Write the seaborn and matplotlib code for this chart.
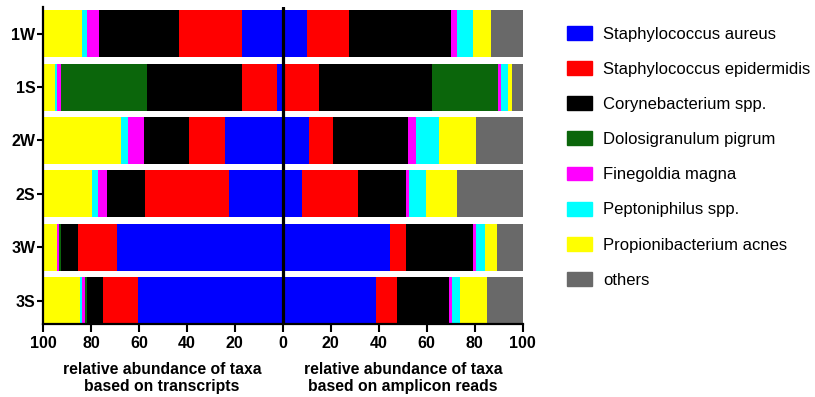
import pandas as pd
import numpy as np
import seaborn as sns
import matplotlib.pyplot as plt
import matplotlib.patches as mpatches

samples = ["1W", "1S", "2W", "2S", "3W", "3S"]
taxa = [
    "Staphylococcus aureus",
    "Staphylococcus epidermidis",
    "Corynebacterium spp.",
    "Dolosigranulum pigrum",
    "Finegoldia magna",
    "Peptoniphilus spp.",
    "Propionibacterium acnes",
    "others",
]
colors = ["#0000ff", "#ff0000", "#000000", "#0b660b",
          "#ff00ff", "#00ffff", "#ffff00", "#696969"]

# relative abundance (%) based on transcripts, per taxon across samples
aureus_tx = [17.1, 2.6, 24.2, 22.4, 69.2, 60.4]
epi_tx = [26.3, 14.4, 15.0, 35.2, 16.0, 14.6]
coryne_tx = [33.4, 39.5, 18.8, 15.6, 7.5, 6.7]
dolo_tx = [0.0, 35.9, 0.0, 0.0, 0.7, 0.7]
fine_tx = [4.7, 1.8, 6.7, 3.9, 0.8, 1.4]
pepto_tx = [2.3, 1.0, 2.9, 2.4, 0.0, 0.8]
acnes_tx = [16.2, 4.8, 32.4, 20.5, 5.8, 15.4]
others_tx = [0.0, 0.0, 0.0, 0.0, 0.0, 0.0]

# relative abundance (%) based on amplicon reads
aureus_amp = [10.2, 0.5, 11.0, 8.1, 44.7, 38.7]
epi_amp = [17.4, 14.7, 9.9, 23.1, 6.5, 9.0]
coryne_amp = [42.5, 46.9, 31.3, 20.2, 28.3, 21.7]
dolo_amp = [0.0, 27.8, 0.0, 0.0, 0.0, 0.0]
fine_amp = [2.4, 1.0, 3.2, 1.2, 1.0, 1.0]
pepto_amp = [6.8, 2.9, 9.9, 7.2, 3.8, 3.5]
acnes_amp = [7.5, 2.0, 15.3, 12.7, 4.9, 11.1]
others_amp = [13.2, 4.2, 19.4, 27.5, 10.8, 15.0]

tx = [aureus_tx, epi_tx, coryne_tx, dolo_tx, fine_tx, pepto_tx, acnes_tx, others_tx]
amp = [aureus_amp, epi_amp, coryne_amp, dolo_amp, fine_amp, pepto_amp, acnes_amp, others_amp]


def cumulative_frame(values, sign):
    df = pd.DataFrame(np.array(values).T, columns=taxa)
    df.insert(0, "sample", samples)
    cum = df.set_index("sample")[taxa].cumsum(axis=1) * sign
    return cum.reset_index().melt(id_vars="sample", var_name="taxon", value_name="cum")


sns.set_theme(style="ticks")
plt.rcParams["font.family"] = ["Liberation Sans", "DejaVu Sans"]

fig = plt.figure(figsize=(8.15, 3.97), dpi=100)
ax = fig.add_axes([43 / 815, 1 - 324 / 397, (522.5 - 43) / 815, 317 / 397])

for values, sign in [(tx, -1), (amp, 1)]:
    df = cumulative_frame(values, sign)
    # draw outermost layer first so inner layers sit on top
    for taxon, color in reversed(list(zip(taxa, colors))):
        sns.barplot(
            data=df.loc[lambda x: x["taxon"] == taxon],
            x="cum", y="sample", order=samples, orient="h",
            color=color, saturation=1, width=0.88, errorbar=None,
            linewidth=0, ax=ax,
        )

ax.axvline(0, color="black", lw=2.3, zorder=5)
ax.set_xlim(-100, 100)
ax.set_ylim(5.44, -0.5)
ticks = np.arange(-100, 101, 20)
ax.set_xticks(ticks)
ax.set_xticklabels([str(abs(t)) for t in ticks], fontsize=11.5, fontweight="bold")
ax.set_yticks(range(len(samples)))
ax.set_yticklabels(samples, fontsize=11.5, fontweight="bold")
ax.set_xlabel(None)
ax.set_ylabel(None)
sns.despine(ax=ax)
for side in ["left", "bottom"]:
    ax.spines[side].set_linewidth(1.6)
    ax.spines[side].set_color("black")
ax.tick_params(axis="x", length=6, width=1.5, pad=2.5, colors="black")
ax.tick_params(axis="y", length=4.5, width=1.5, pad=1, colors="black")

fig.text(162 / 815, 1 - 378 / 397,
         "relative abundance of taxa\nbased on transcripts",
         ha="center", va="center", fontsize=11.3, fontweight="bold",
         linespacing=1.2, color="black")
fig.text(403 / 815, 1 - 378 / 397,
         "relative abundance of taxa\nbased on amplicon reads",
         ha="center", va="center", fontsize=11.3, fontweight="bold",
         linespacing=1.2, color="black")

handles = [mpatches.Patch(color=c, label=t) for t, c in zip(taxa, colors)]
fig.legend(
    handles=handles,
    loc="upper left",
    bbox_to_anchor=(567 / 815, 1 - 26 / 397),
    frameon=False,
    borderpad=0,
    borderaxespad=0,
    fontsize=12,
    labelcolor="black",
    handlelength=1.5,
    handleheight=0.9,
    handletextpad=0.66,
    labelspacing=1.17,
)

plt.savefig("out.png", dpi=100)
